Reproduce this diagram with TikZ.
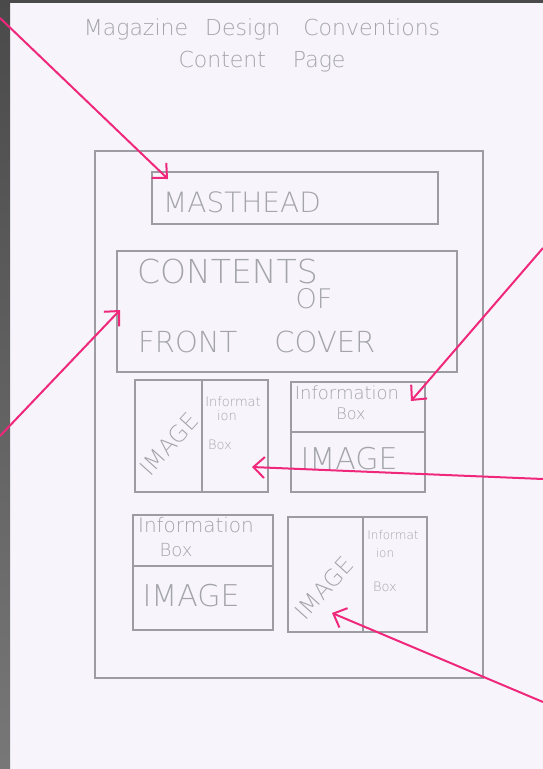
\documentclass[tikz,border=0pt]{standalone}
\usepackage{fontspec}
\newfontfamily\handfont{DejaVuSans-ExtraLight}[Extension=.ttf]
\usetikzlibrary{arrows.meta}
\definecolor{paper}{HTML}{F7F5FB}
\definecolor{desk}{HTML}{4A4A4A}
\definecolor{pencil}{HTML}{9C9CA2}
\definecolor{lead}{HTML}{A4A4AC}
\definecolor{marker}{HTML}{F0287C}
\newcommand\handsize[1]{\fontsize{#1}{#1}\selectfont}
\tikzset{
  sketch/.style={draw=pencil, line width=1.1pt},
  hand/.style={text=lead, inner sep=0pt, font=\handfont\handsize{#1}},
  hand/.default=18,
  pointer/.style={draw=marker, line width=2pt, -{Straight Barb[length=11pt,width=21pt]}}
}
\begin{document}
\begin{tikzpicture}[x=1pt,y=-1pt]
\useasboundingbox (0,0) rectangle (543,769);
% photo background
\fill[paper] (0,0) rectangle (543,769);
\shade[top color=desk, bottom color=desk!75!white] (0,0) rectangle (10,769);
\fill[desk] (0,0) rectangle (543,3);

% heading
\node[hand=22] (title) at (262,29) {Magazine\hspace{10pt} Design\hspace{16pt} Conventions};
\node[hand=22] (subtitle) at (262,62) {Content\hspace{20pt} Page};

% page, masthead and contents
\draw[sketch] (95,151) rectangle (483,678);
\draw[sketch] (152,172) rectangle (438,224);
\node[hand=28, anchor=west] (masthead) at (163,202) {MASTHEAD};
\draw[sketch] (117,251) rectangle (457,372);
\node[hand=33, anchor=west] (contents) at (137,271) {CONTENTS};
\node[hand=27] (of) at (314,299) {OF};
\node[hand=29, anchor=west] (frontcover) at (138,342) {FRONT\hspace{28pt} COVER};

% top left feature
\draw[sketch] (135,380) rectangle (268,492);
\draw[sketch] (202,380) -- (202,492);
\node[hand=23, rotate=48] (imageA) at (169,444) {IMAGE};
\node[hand=13] (infoA) at (233,402) {Informat};
\node[hand=13] (ionA) at (227,416) {ion};
\node[hand=13] (boxA) at (220,445) {Box};

% top right feature
\draw[sketch] (291,382) rectangle (425,492);
\draw[sketch] (291,432) -- (425,432);
\node[hand=18] (infoB) at (347,393) {Information};
\node[hand=16] (boxB) at (351,414) {Box};
\node[hand=30] (imageB) at (349,459) {IMAGE};

% bottom left feature
\draw[sketch] (133,515) rectangle (273,630);
\draw[sketch] (133,566) -- (273,566);
\node[hand=20] (infoC) at (196,525) {Information};
\node[hand=18] (boxC) at (176,550) {Box};
\node[hand=30] (imageC) at (191,596) {IMAGE};

% bottom right feature
\draw[sketch] (288,517) rectangle (427,632);
\draw[sketch] (363,517) -- (363,632);
\node[hand=23, rotate=48] (imageD) at (324,588) {IMAGE};
\node[hand=12] (infoD) at (393,535) {Informat};
\node[hand=12] (ionD) at (385,553) {ion};
\node[hand=13] (boxD) at (385,587) {Box};

% pink pointers
\coordinate (mastTail) at (0,18);
\coordinate (mastTip) at (168,179);
\coordinate (contTail) at (0,436);
\coordinate (contTip) at (120,310);
\coordinate (infoTail) at (543,248);
\coordinate (infoTip) at (411,401);
\coordinate (sideTail) at (543,479);
\coordinate (sideTip) at (252,467);
\coordinate (imgTail) at (543,702);
\coordinate (imgTip) at (332,613);
\draw[pointer] (mastTail) -- (mastTip);
\draw[pointer] (contTail) -- (contTip);
\draw[pointer] (infoTail) -- (infoTip);
\draw[pointer] (sideTail) -- (sideTip);
\draw[pointer] (imgTail) -- (imgTip);
\end{tikzpicture}
\end{document}
